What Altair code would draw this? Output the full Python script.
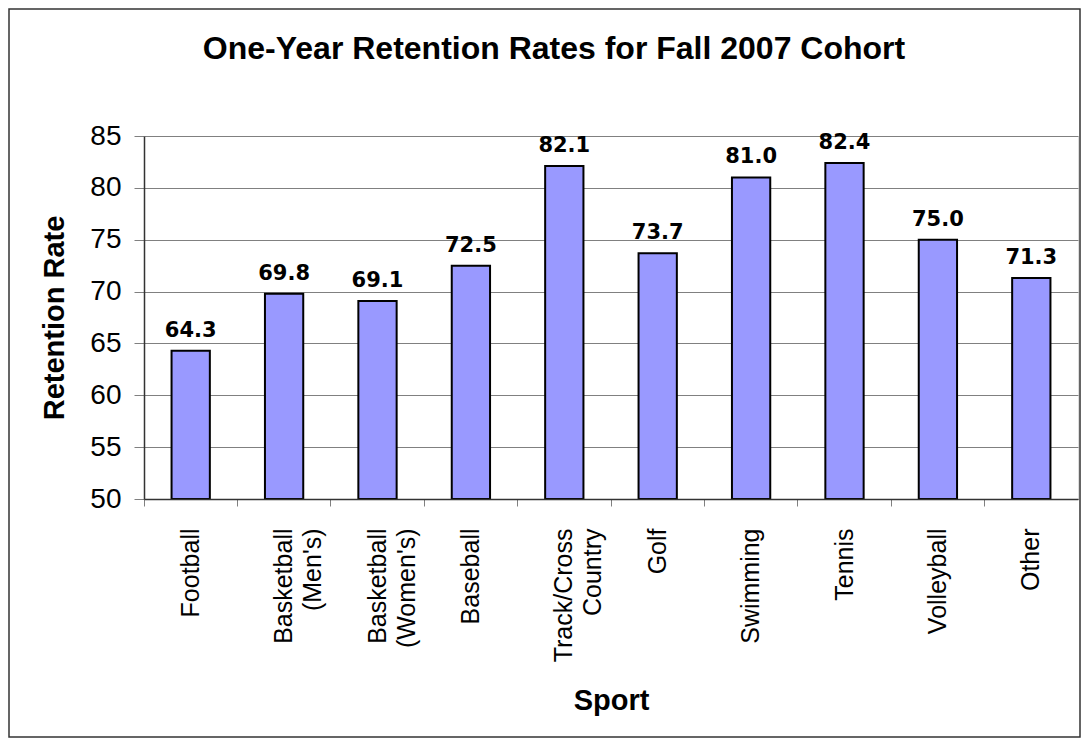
import altair as alt
import pandas as pd

sports = [
    "Football",
    "Basketball\n(Men's)",
    "Basketball\n(Women's)",
    "Baseball",
    "Track/Cross\nCountry",
    "Golf",
    "Swimming",
    "Tennis",
    "Volleyball",
    "Other",
]
rates = [64.3, 69.8, 69.1, 72.5, 82.1, 73.7, 81.0, 82.4, 75.0, 71.3]
chart_title = "One-Year Retention Rates for Fall 2007 Cohort"

df = pd.DataFrame({"sport": sports, "rate": rates})

W, H = 934, 363
FONT = "Liberation Sans"

xscale = alt.Scale(domain=sports, paddingInner=0, paddingOuter=0)
yscale = alt.Scale(domain=[50, 85], nice=False, zero=False)

base = alt.Chart(df)

bars = base.mark_bar(
    width={"band": 0.41}, color="#9999FF", stroke="#000000", strokeWidth=2
).encode(
    x=alt.X(
        "sport:N",
        sort=sports,
        scale=xscale,
        axis=alt.Axis(
            title="Sport",
            orient="bottom",
            labelAngle=-90,
            labelAlign="right",
            labelBaseline="middle",
            labelExpr="split(datum.label, '\\n')",
            labelFont=FONT,
            labelFontSize=25,
            labelLineHeight=29,
            labelColor="#000000",
            labelPadding=29,
            labelOverlap=False,
            ticks=False,
            domainColor="#333333",
            domainWidth=1.5,
            titleFont=FONT,
            titleFontSize=29,
            titleFontWeight="bold",
            titleColor="#000000",
            titleY=210,
            titleBaseline="alphabetic",
            grid=False,
            zindex=1,
        ),
    ),
    y=alt.Y(
        "rate:Q",
        scale=yscale,
        axis=alt.Axis(
            title="Retention Rate",
            values=[50, 55, 60, 65, 70, 75, 80, 85],
            labelFont=FONT,
            labelFontSize=28,
            labelColor="#000000",
            labelPadding=13,
            tickSize=10,
            tickColor="#808080",
            domainColor="#333333",
            domainWidth=1.5,
            gridColor="#808080",
            gridWidth=1,
            titleFont=FONT,
            titleFontSize=29,
            titleFontWeight="bold",
            titleColor="#000000",
            titleX=-81,
            titleBaseline="alphabetic",
        ),
    ),
    y2=alt.datum(50),
)

labels = base.mark_text(
    font="DejaVu Sans", fontWeight="bold", fontSize=21, baseline="alphabetic", dy=-14, color="#000000"
).encode(
    x=alt.X(
        "sport:N",
        sort=sports,
        scale=xscale,
        axis=alt.Axis(
            orient="bottom",
            bandPosition=0,
            labels=False,
            ticks=True,
            tickSize=7,
            tickColor="#808080",
            domain=False,
            grid=False,
            title=None,
        ),
    ),
    y=alt.Y("rate:Q", scale=yscale),
    text=alt.Text("rate:Q", format=".1f"),
)

title = alt.Chart(alt.Data(values=[{"t": chart_title}])).mark_text(
    font=FONT, fontSize=32, fontWeight="bold", color="#000000",
    align="center", baseline="alphabetic"
).encode(
    x=alt.value(410), y=alt.value(-77), text="t:N"
)

border = alt.Chart(alt.Data(values=[{"k": 1}])).mark_rect(
    fill=None, stroke="#333333", strokeWidth=1.5
).encode(
    x=alt.value(-135), x2=alt.value(936), y=alt.value(-127), y2=alt.value(601)
)

chart = (
    alt.layer(bars, labels, title, border)
    .resolve_axis(x="independent")
    .properties(
        width=W,
        height=H,
        padding={"left": 136, "top": 128, "right": 3, "bottom": 239},
        autosize=alt.AutoSizeParams(type="none"),
    )
    .configure_view(stroke="#808080", strokeWidth=1)
    .configure(background="#ffffff")
)

chart.save("out.html", embed_options={"renderer": "svg", "actions": False})
